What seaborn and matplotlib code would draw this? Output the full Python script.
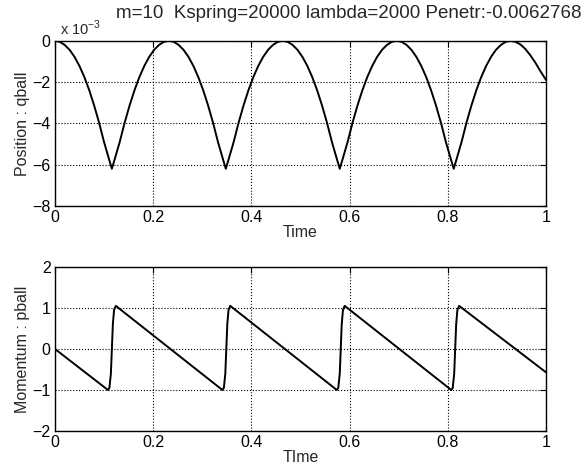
import numpy as np
import pandas as pd
import matplotlib
matplotlib.use("Agg")
import matplotlib.pyplot as plt
import seaborn as sns

# ---- data ----
# position of the ball (units of 1e-3)
pos_time = [0, 0.01, 0.02, 0.03, 0.04, 0.05, 0.06, 0.07, 0.08, 0.09, 0.10, 0.11, 0.116,
            0.122, 0.132, 0.142, 0.152, 0.162, 0.172, 0.182, 0.192, 0.202, 0.212, 0.222, 0.232,
            0.242, 0.252, 0.262, 0.272, 0.282, 0.292, 0.302, 0.312, 0.322, 0.332, 0.342, 0.348,
            0.354, 0.364, 0.374, 0.384, 0.394, 0.404, 0.414, 0.424, 0.434, 0.444, 0.454, 0.464,
            0.474, 0.484, 0.494, 0.504, 0.514, 0.524, 0.534, 0.544, 0.554, 0.564, 0.574, 0.580,
            0.586, 0.596, 0.606, 0.616, 0.626, 0.636, 0.646, 0.656, 0.666, 0.676, 0.686, 0.696,
            0.706, 0.716, 0.726, 0.736, 0.746, 0.756, 0.766, 0.776, 0.786, 0.796, 0.806, 0.812,
            0.818, 0.828, 0.838, 0.848, 0.858, 0.868, 0.878, 0.888, 0.898, 0.908, 0.918, 0.928,
            0.938, 0.948, 0.958, 0.968, 0.978, 0.988, 1.0]
pos_val = [0, -0.05, -0.2, -0.44, -0.78, -1.22, -1.76, -2.40, -3.14, -3.97, -4.90, -5.72, -6.2,
           -5.72, -4.90, -3.97, -3.14, -2.40, -1.76, -1.22, -0.78, -0.44, -0.2, -0.05, 0,
           -0.05, -0.2, -0.44, -0.78, -1.22, -1.76, -2.40, -3.14, -3.97, -4.90, -5.72, -6.2,
           -5.72, -4.90, -3.97, -3.14, -2.40, -1.76, -1.22, -0.78, -0.44, -0.2, -0.05, 0,
           -0.05, -0.2, -0.44, -0.78, -1.22, -1.76, -2.40, -3.14, -3.97, -4.90, -5.72, -6.2,
           -5.72, -4.90, -3.97, -3.14, -2.40, -1.76, -1.22, -0.78, -0.44, -0.2, -0.05, 0,
           -0.05, -0.2, -0.44, -0.78, -1.22, -1.76, -2.40, -3.14, -3.97, -4.90, -5.72, -6.2,
           -5.72, -4.90, -3.97, -3.14, -2.40, -1.76, -1.22, -0.78, -0.44, -0.2, -0.05, 0,
           -0.05, -0.18, -0.40, -0.70, -1.05, -1.45, -1.9]

# momentum of the ball
mom_time = [0, 0.108, 0.111, 0.114, 0.116, 0.118, 0.1205, 0.124,
            0.341, 0.344, 0.347, 0.349, 0.351, 0.3535, 0.357,
            0.574, 0.577, 0.580, 0.582, 0.584, 0.5865, 0.590,
            0.807, 0.810, 0.813, 0.815, 0.817, 0.8195, 0.823,
            1.0]
mom_val = [0, -1.0, -0.95, -0.6, 0.0, 0.6, 0.95, 1.05,
           -1.0, -0.95, -0.6, 0.0, 0.6, 0.95, 1.05,
           -1.0, -0.95, -0.6, 0.0, 0.6, 0.95, 1.05,
           -1.0, -0.95, -0.6, 0.0, 0.6, 0.95, 1.05,
           -0.57]

title_txt = "m=10  Kspring=20000 lambda=2000 Penetr:-0.0062768"

df_pos = pd.DataFrame({"t": pos_time, "q": pos_val})
df_mom = pd.DataFrame({"t": mom_time, "p": mom_val})

sns.set_theme(style="white")
plt.rcParams['font.family'] = ['Liberation Sans', 'DejaVu Sans']
plt.rcParams['mathtext.fontset'] = 'custom'
plt.rcParams['mathtext.rm'] = 'Liberation Sans'

fig = plt.figure(figsize=(5.84, 4.69), dpi=100)
ax1 = fig.add_axes([0.094, 0.561, 0.841, 0.352])
ax2 = fig.add_axes([0.094, 0.081, 0.841, 0.350])

sns.lineplot(data=df_pos, x="t", y="q", ax=ax1, color="black", lw=1.4, sort=False)
sns.lineplot(data=df_mom, x="t", y="p", ax=ax2, color="black", lw=1.4, sort=False)

for ax in (ax1, ax2):
    ax.set_xlim(0, 1)
    ax.set_xticks([0, 0.2, 0.4, 0.6, 0.8, 1])
    ax.set_xticklabels(["0", "0.2", "0.4", "0.6", "0.8", "1"])
    ax.grid(True, linestyle=":", color="black", lw=0.8)
    ax.tick_params(direction="in", top=True, right=True, length=4, width=0.8,
                   labelsize=11.5, colors="black", pad=3)
    for s in ax.spines.values():
        s.set_color("black")
        s.set_linewidth(1.0)
    ax.set_facecolor("white")

ax1.set_ylim(-8, 0)
ax1.set_yticks([-8, -6, -4, -2, 0])
ax1.set_yticklabels(["\u22128", "\u22126", "\u22124", "\u22122", "0"])
ax1.set_xlabel("Time", fontsize=11.5, labelpad=0)
ax1.set_ylabel("Position : qball", fontsize=11.5, labelpad=2)
ax1.text(0.01, 1.015, r"x 10$^{-3}$", transform=ax1.transAxes, fontsize=10.5,
         ha="left", va="bottom")
fig.text(116 / 584, 1 - 14 / 469, title_txt, fontsize=13.5, ha="left", va="center")

ax2.set_ylim(-2, 2)
ax2.set_yticks([-2, -1, 0, 1, 2])
ax2.set_yticklabels(["\u22122", "\u22121", "0", "1", "2"])
ax2.set_xlabel("TIme", fontsize=11.5, labelpad=0)
ax2.set_ylabel("Momentum : pball", fontsize=11.5, labelpad=2)

fig.savefig("out.png", dpi=100, facecolor="white")
